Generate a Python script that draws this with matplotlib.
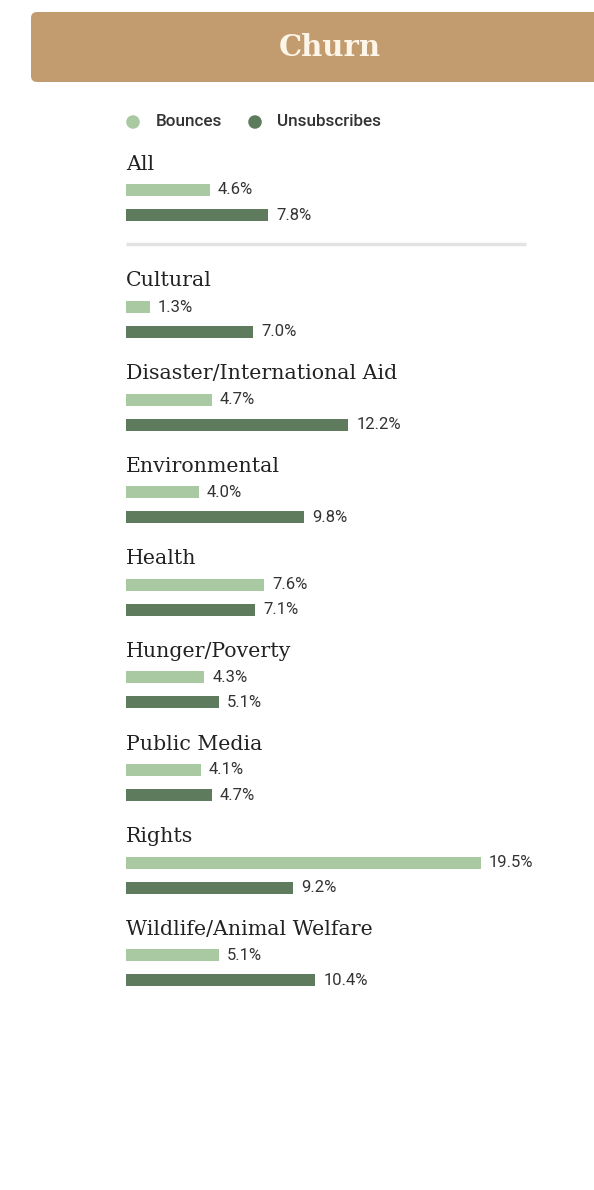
import matplotlib
matplotlib.use("Agg")
import matplotlib.pyplot as plt
from matplotlib.patches import FancyBboxPatch

categories = ["All", "Cultural", "Disaster/International Aid", "Environmental", "Health",
              "Hunger/Poverty", "Public Media", "Rights", "Wildlife/Animal Welfare"]
bounces = [4.6, 1.3, 4.7, 4.0, 7.6, 4.3, 4.1, 19.5, 5.1]
unsubscribes = [7.8, 7.0, 12.2, 9.8, 7.1, 5.1, 4.7, 9.2, 10.4]
series_names = ["Bounces", "Unsubscribes"]
title = "Churn"

W, H = 594, 1190
fig = plt.figure(figsize=(W / 100, H / 100), dpi=100)
fig.patch.set_facecolor("white")

# header band
hdr = fig.add_axes([0, 0, 1, 1])
hdr.set_xlim(0, W); hdr.set_ylim(H, 0); hdr.axis("off")
hdr.add_patch(FancyBboxPatch((31, 12), 600, 70, boxstyle="round,pad=0,rounding_size=6",
                             fc="#C29C6F", ec="none"))
hdr.text(330, 47, title, ha="center", va="center", color="#FDF5E8", fontsize=21,
         fontweight="bold", family="DejaVu Serif")

# bars axes: x in percent, 18.2 px per percent, zero at x=126 px
ppp = 18.2
x0 = 126
ax = fig.add_axes([0, 0, 1, 1])
ax.patch.set_alpha(0)
ax.set_xlim(-x0 / ppp, (W - x0) / ppp)
ax.set_ylim(H, 0)
ax.axis("off")

c_b = "#A8C9A2"
c_u = "#5F7B5E"
txt = "#333333"
serif = "DejaVu Serif"
sans = "Roboto"

# legend
ax.scatter([(133 - x0) / ppp, (255 - x0) / ppp], [122, 122], s=95, c=[c_b, c_u], edgecolors="none")
ax.text((156 - x0) / ppp, 122, series_names[0], va="center", ha="left", fontsize=12.3,
        color=txt, family=sans, fontweight="medium")
ax.text((277 - x0) / ppp, 122, series_names[1], va="center", ha="left", fontsize=12.3,
        color=txt, family=sans, fontweight="medium")

spacing = 92.6
bar_h = 12
for i, cat in enumerate(categories):
    if i == 0:
        ylab = 163
    else:
        ylab = 280 + (i - 1) * spacing
    yb = ylab + 27
    yu = ylab + 52
    ax.text(0, ylab + 1, cat, va="center", ha="left", fontsize=14.8, color="#222222", family=serif)
    ax.barh([yb], [bounces[i]], height=bar_h, left=0, color=c_b, edgecolor="none")
    ax.barh([yu], [unsubscribes[i]], height=bar_h, left=0, color=c_u, edgecolor="none")
    ax.text(bounces[i] + 0.45, yb, f"{bounces[i]:.1f}%", va="center", ha="left",
            fontsize=12, color=txt, family=sans)
    ax.text(unsubscribes[i] + 0.45, yu, f"{unsubscribes[i]:.1f}%", va="center", ha="left",
            fontsize=12, color=txt, family=sans)

# separator
ax.plot([0, (526 - x0) / ppp], [244, 244], color="#E3E3E3", lw=2.5, solid_capstyle="butt")

fig.savefig("out.png", dpi=100, facecolor="white")
